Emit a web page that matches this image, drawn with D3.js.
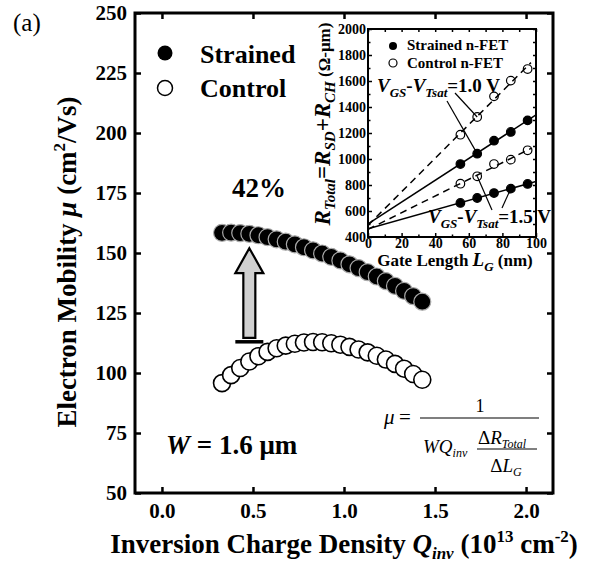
<!DOCTYPE html>
<html>
<head>
<meta charset="utf-8">
<script src="https://cdn.jsdelivr.net/npm/d3@7"></script>
<style>
  body { margin: 0; background: #fff; }
  svg text { font-family: "Liberation Serif", Tinos, "Times New Roman", Times, "Nimbus Roman", "DejaVu Serif", serif; white-space: pre; }
</style>
</head>
<body>
<script>
// Main panel data
var qInv = [0.33, 0.38, 0.43, 0.48, 0.53, 0.58, 0.63, 0.68, 0.73, 0.78, 0.83, 0.88,
            0.93, 0.98, 1.03, 1.08, 1.13, 1.18, 1.23, 1.28, 1.33, 1.38, 1.43];
var strainedMu = [158.4, 158.5, 158.3, 158.0, 157.4, 156.6, 155.7, 154.7, 153.6, 152.4, 151.1, 149.8,
                  148.4, 146.9, 145.3, 143.7, 142.0, 140.2, 138.3, 136.3, 134.2, 132.0, 129.7];
var controlMu = [95.8, 99.1, 102.1, 104.8, 107.0, 108.8, 110.3, 111.4, 112.2, 112.7, 112.9, 112.8,
                 112.4, 111.8, 110.9, 109.8, 108.6, 107.2, 105.6, 103.8, 101.8, 99.6, 97.2];
var xTicks = [0.0, 0.5, 1.0, 1.5, 2.0];
var yTicks = [50, 75, 100, 125, 150, 175, 200, 225, 250];

// 42% arrow (Q position, from / to mobility)
var arrowQ = 0.48;
var arrowFrom = 113;
var arrowTo = 152;

// Inset data
var gateLength = [55, 65, 75, 85, 95];
var strainedR10 = [961, 1041, 1141, 1208, 1297];
var controlR10 = [1187, 1323, 1482, 1603, 1692];
var controlR15 = [810, 867, 961, 995, 1067];
var strainedR15 = [662, 700, 738, 772, 808];
var insetXTicks = [0, 20, 40, 60, 80, 100];
var insetXMinor = [10, 30, 50, 70, 90];
var insetYTicks = [400, 600, 800, 1000, 1200, 1400, 1600, 1800, 2000];
var insetYMinor = [500, 700, 900, 1100, 1300, 1500, 1700, 1900];

var serif = "'Liberation Serif', Tinos, 'Times New Roman', Times, 'Nimbus Roman', 'DejaVu Serif', serif";

var svgWidth = 591;
var svgHeight = 567;

var margin = { top: 13, right: 38, bottom: 74, left: 135 };
var width = svgWidth - margin.left - margin.right;
var height = svgHeight - margin.top - margin.bottom;

var svg = d3.select("body")
  .append("svg")
  .attr("width", svgWidth)
  .attr("height", svgHeight)
  .style("font-family", serif);

svg.append("rect").attr("width", svgWidth).attr("height", svgHeight).attr("fill", "#fff");

var chartGroup = svg.append("g")
  .attr("transform", `translate(${margin.left}, ${margin.top})`);

var xScale = d3.scaleLinear().domain([-0.148, 2.148]).range([0, width]);
var yScale = d3.scaleLinear().domain([50, 250]).range([height, 0]);

// text with sub/superscripts: parts = [{text, size, italic, bold, shift}]
function richText(parent, parts) {
  var t = parent.append("text").style("font-family", serif);
  var cur = 0;
  parts.forEach(function(p) {
    var shift = p.shift || 0;
    t.append("tspan")
      .attr("dy", shift - cur)
      .style("font-size", p.size + "px")
      .style("font-weight", p.bold === false ? "normal" : "bold")
      .style("font-style", p.italic ? "italic" : "normal")
      .text(p.text);
    cur = shift;
  });
  return t;
}

function plainText(x, y, str, size, weight) {
  return svg.append("text")
    .attr("x", x).attr("y", y)
    .style("font-family", serif)
    .style("font-size", size + "px")
    .style("font-weight", weight || "bold")
    .text(str);
}

function styleAxis(g, size, lw) {
  g.attr("font-family", null);
  g.select(".domain").remove();
  g.selectAll(".tick line").attr("stroke", "#000").attr("stroke-width", lw);
  g.selectAll(".tick text")
    .attr("fill", "#000")
    .style("font-family", serif)
    .style("font-weight", "bold")
    .style("font-size", size + "px");
}

// Axes with inward ticks on all four sides
chartGroup.append("g")
  .attr("transform", `translate(0, ${height})`)
  .call(d3.axisBottom(xScale).tickValues(xTicks).tickFormat(d3.format(".1f")).tickSizeInner(-6).tickSizeOuter(0).tickPadding(10))
  .call(styleAxis, 21, 2.5);
chartGroup.append("g")
  .call(d3.axisTop(xScale).tickValues(xTicks).tickFormat("").tickSizeInner(-6).tickSizeOuter(0))
  .call(styleAxis, 21, 2.5);
chartGroup.append("g")
  .call(d3.axisLeft(yScale).tickValues(yTicks).tickSizeInner(-6).tickSizeOuter(0).tickPadding(8))
  .call(styleAxis, 21, 2.5);
chartGroup.append("g")
  .attr("transform", `translate(${width}, 0)`)
  .call(d3.axisRight(yScale).tickValues(yTicks).tickFormat("").tickSizeInner(-6).tickSizeOuter(0))
  .call(styleAxis, 21, 2.5);

chartGroup.append("rect")
  .attr("width", width)
  .attr("height", height)
  .attr("fill", "none")
  .attr("stroke", "#000")
  .attr("stroke-width", 3);

// Control (open) and strained (filled) points
chartGroup.selectAll("circle.control")
  .data(qInv)
  .enter()
  .append("circle")
  .attr("class", "control")
  .attr("cx", d => xScale(d))
  .attr("cy", (d, i) => yScale(controlMu[i]))
  .attr("r", 8.5)
  .attr("fill", "#fff")
  .attr("stroke", "#000")
  .attr("stroke-width", 1.6);

chartGroup.selectAll("circle.strained")
  .data(qInv)
  .enter()
  .append("circle")
  .attr("class", "strained")
  .attr("cx", d => xScale(d))
  .attr("cy", (d, i) => yScale(strainedMu[i]))
  .attr("r", 8.5)
  .attr("fill", "#000")
  .attr("stroke", "#aaa")
  .attr("stroke-width", 1.2);

// 42% arrow
var ax = xScale(arrowQ), yTip = yScale(arrowTo), yBase = yScale(arrowFrom);
var headH = 25, headW = 14, shaftW = 6;
chartGroup.append("path")
  .attr("d", `M${ax},${yTip} L${ax + headW},${yTip + headH} L${ax + shaftW},${yTip + headH}
    L${ax + shaftW},${yBase - 4} L${ax - shaftW},${yBase - 4} L${ax - shaftW},${yTip + headH}
    L${ax - headW},${yTip + headH} Z`)
  .attr("fill", "#d0d0d0")
  .attr("stroke", "#000")
  .attr("stroke-width", 2.2)
  .attr("stroke-linejoin", "miter");
chartGroup.append("line")
  .attr("x1", ax - headW).attr("x2", ax + headW)
  .attr("y1", yBase).attr("y2", yBase)
  .attr("stroke", "#000").attr("stroke-width", 3.5);

plainText(259, 197, "42%", 27).attr("text-anchor", "middle");

// Legend
svg.append("circle").attr("cx", 165).attr("cy", 53).attr("r", 7.5).attr("fill", "#000");
svg.append("circle").attr("cx", 165).attr("cy", 88).attr("r", 7.5).attr("fill", "#fff").attr("stroke", "#000").attr("stroke-width", 1.5);
plainText(200, 63, "Strained", 26);
plainText(200, 97, "Control", 26);

// (a)
plainText(13, 31, "(a)", 25, "normal");

// W = 1.6 um
richText(svg, [
  { text: "W", size: 27, italic: true },
  { text: " = 1.6 μm", size: 27 }
]).attr("x", 166).attr("y", 454);

// Formula
plainText(384, 424, "μ", 21, "normal").style("font-style", "italic");
plainText(399, 424, "=", 21, "normal");
svg.append("line").attr("x1", 420).attr("x2", 539).attr("y1", 418).attr("y2", 418).attr("stroke", "#000").attr("stroke-width", 1.2);
plainText(480, 412, "1", 18, "normal").attr("text-anchor", "middle");
richText(svg, [
  { text: "WQ", size: 19, italic: true, bold: false },
  { text: "inv", size: 12, italic: true, bold: false, shift: 4 }
]).attr("x", 423).attr("y", 453);
richText(svg, [
  { text: "Δ", size: 19, bold: false },
  { text: "R", size: 19, italic: true, bold: false },
  { text: "Total", size: 12, italic: true, bold: false, shift: 4 }
]).attr("x", 478).attr("y", 444);
svg.append("line").attr("x1", 477).attr("x2", 537).attr("y1", 449).attr("y2", 449).attr("stroke", "#000").attr("stroke-width", 1);
richText(svg, [
  { text: "Δ", size: 19, bold: false },
  { text: "L", size: 19, italic: true, bold: false },
  { text: "G", size: 12, italic: true, bold: false, shift: 4 }
]).attr("x", 506).attr("y", 472).attr("text-anchor", "middle");

// Axis titles
richText(svg, [
  { text: "Inversion Charge Density ", size: 27 },
  { text: "Q", size: 27, italic: true },
  { text: "inv", size: 17, italic: true, shift: 6 },
  { text: " (10", size: 27 },
  { text: "13", size: 17, shift: -11 },
  { text: " cm", size: 27 },
  { text: "-2", size: 17, shift: -11 },
  { text: ")", size: 27 }
]).attr("x", margin.left + width / 2).attr("y", 553).attr("text-anchor", "middle");

richText(svg, [
  { text: "Electron Mobility ", size: 27 },
  { text: "μ", size: 27, italic: true },
  { text: " (cm", size: 27 },
  { text: "2", size: 17, shift: -11 },
  { text: "/Vs)", size: 27 }
]).attr("transform", "translate(76, 262) rotate(-90)").attr("text-anchor", "middle");

// ---------- Inset ----------
var inset = { left: 368, top: 29, right: 536, bottom: 237 };
var insetGroup = svg.append("g").attr("transform", `translate(${inset.left}, ${inset.top})`);
var iw = inset.right - inset.left, ih = inset.bottom - inset.top;
var ix = d3.scaleLinear().domain([0, 100]).range([0, iw]);
var iy = d3.scaleLinear().domain([400, 2000]).range([ih, 0]);

insetGroup.append("rect").attr("width", iw).attr("height", ih).attr("fill", "#fff");

insetGroup.append("g").attr("transform", `translate(0, ${ih})`)
  .call(d3.axisBottom(ix).tickValues(insetXTicks).tickFormat(d3.format("d")).tickSizeInner(-4).tickSizeOuter(0).tickPadding(1))
  .call(styleAxis, 14, 1.5);
insetGroup.append("g").attr("transform", `translate(0, ${ih})`)
  .call(d3.axisBottom(ix).tickValues(insetXMinor).tickFormat("").tickSizeInner(-2.5).tickSizeOuter(0))
  .call(styleAxis, 14, 1.5);
insetGroup.append("g")
  .call(d3.axisTop(ix).tickValues(insetXTicks.concat(insetXMinor)).tickFormat("").tickSizeInner(-3).tickSizeOuter(0))
  .call(styleAxis, 14, 1.5);
insetGroup.append("g")
  .call(d3.axisLeft(iy).tickValues(insetYTicks).tickFormat(d3.format("d")).tickSizeInner(-4).tickSizeOuter(0).tickPadding(2))
  .call(styleAxis, 14, 1.5);
insetGroup.append("g")
  .call(d3.axisLeft(iy).tickValues(insetYMinor).tickFormat("").tickSizeInner(-2.5).tickSizeOuter(0))
  .call(styleAxis, 14, 1.5);
insetGroup.append("g").attr("transform", `translate(${iw}, 0)`)
  .call(d3.axisRight(iy).tickValues(insetYTicks.concat(insetYMinor)).tickFormat("").tickSizeInner(-3).tickSizeOuter(0))
  .call(styleAxis, 14, 1.5);

insetGroup.append("clipPath").attr("id", "insetClip")
  .append("rect").attr("width", iw).attr("height", ih);

// least-squares fit lines through each series
function fitLine(xs, ys) {
  var mx = d3.mean(xs), my = d3.mean(ys);
  var b = d3.sum(xs, (x, i) => (x - mx) * (ys[i] - my)) / d3.sum(xs, x => (x - mx) * (x - mx));
  return [my - b * mx, b];
}

var series = [
  { values: controlR10, filled: false },
  { values: strainedR10, filled: true },
  { values: controlR15, filled: false },
  { values: strainedR15, filled: true }
];

series.forEach(function(s) {
  var f = fitLine(gateLength, s.values);
  var xEnd = s.filled ? 100 : 97;
  insetGroup.append("line")
    .attr("clip-path", "url(#insetClip)")
    .attr("x1", ix(0)).attr("y1", iy(f[0]))
    .attr("x2", ix(xEnd)).attr("y2", iy(f[0] + f[1] * xEnd))
    .attr("stroke", "#000")
    .attr("stroke-width", 1.5)
    .attr("stroke-dasharray", s.filled ? null : "7,5");
});

series.forEach(function(s) {
  insetGroup.selectAll(null)
    .data(gateLength)
    .enter()
    .append("circle")
    .attr("cx", d => ix(d))
    .attr("cy", (d, i) => iy(s.values[i]))
    .attr("r", 4.3)
    .attr("fill", s.filled ? "#000" : "none")
    .attr("stroke", "#000")
    .attr("stroke-width", 1.2);
});

insetGroup.append("rect").attr("width", iw).attr("height", ih)
  .attr("fill", "none").attr("stroke", "#000").attr("stroke-width", 2);

// inset legend
svg.append("circle").attr("cx", 393).attr("cy", 46).attr("r", 4).attr("fill", "#000");
svg.append("circle").attr("cx", 393).attr("cy", 63).attr("r", 4).attr("fill", "none").attr("stroke", "#000").attr("stroke-width", 1.2);
plainText(407, 50, "Strained n-FET", 15);
plainText(407, 68, "Control n-FET", 15);

// inset annotations
richText(svg, [
  { text: "V", size: 19, italic: true },
  { text: "GS", size: 13, italic: true, shift: 5 },
  { text: "-", size: 19 },
  { text: "V", size: 19, italic: true },
  { text: "Tsat", size: 13, italic: true, shift: 5 },
  { text: "=1.0 V", size: 19 }
]).attr("x", 377).attr("y", 92);
richText(svg, [
  { text: "V", size: 19, italic: true },
  { text: "GS", size: 13, italic: true, shift: 5 },
  { text: "-", size: 19 },
  { text: "V", size: 19, italic: true },
  { text: "Tsat", size: 13, italic: true, shift: 5 },
  { text: "=1.5 V", size: 19 }
]).attr("x", 428).attr("y", 223);

var pointers = [
  { from: [447, 101], lg: 65, r: strainedR10[1] },
  { from: [455, 93], lg: 65, r: controlR10[1] },
  { from: [492, 210], lg: 65, r: controlR15[1] },
  { from: [502, 208], lg: 85, r: strainedR15[3] }
];
pointers.forEach(function(p) {
  svg.append("line")
    .attr("x1", p.from[0]).attr("y1", p.from[1])
    .attr("x2", inset.left + ix(p.lg)).attr("y2", inset.top + iy(p.r))
    .attr("stroke", "#000").attr("stroke-width", 1.2);
});

// inset axis titles
richText(svg, [
  { text: "Gate Length ", size: 17 },
  { text: "L", size: 19, italic: true },
  { text: "G", size: 13, italic: true, shift: 5 },
  { text: " (nm)", size: 17 }
]).attr("x", 455).attr("y", 266).attr("text-anchor", "middle");

richText(svg, [
  { text: "R", size: 23, italic: true },
  { text: "Total", size: 15, italic: true, shift: 5 },
  { text: "=", size: 23 },
  { text: "R", size: 23, italic: true },
  { text: "SD", size: 15, italic: true, shift: 5 },
  { text: "+", size: 23 },
  { text: "R", size: 23, italic: true },
  { text: "CH", size: 15, italic: true, shift: 5 },
  { text: " (Ω-μm)", size: 17 }
]).attr("transform", "translate(330, 124) rotate(-90)").attr("text-anchor", "middle");
</script>
</body>
</html>
